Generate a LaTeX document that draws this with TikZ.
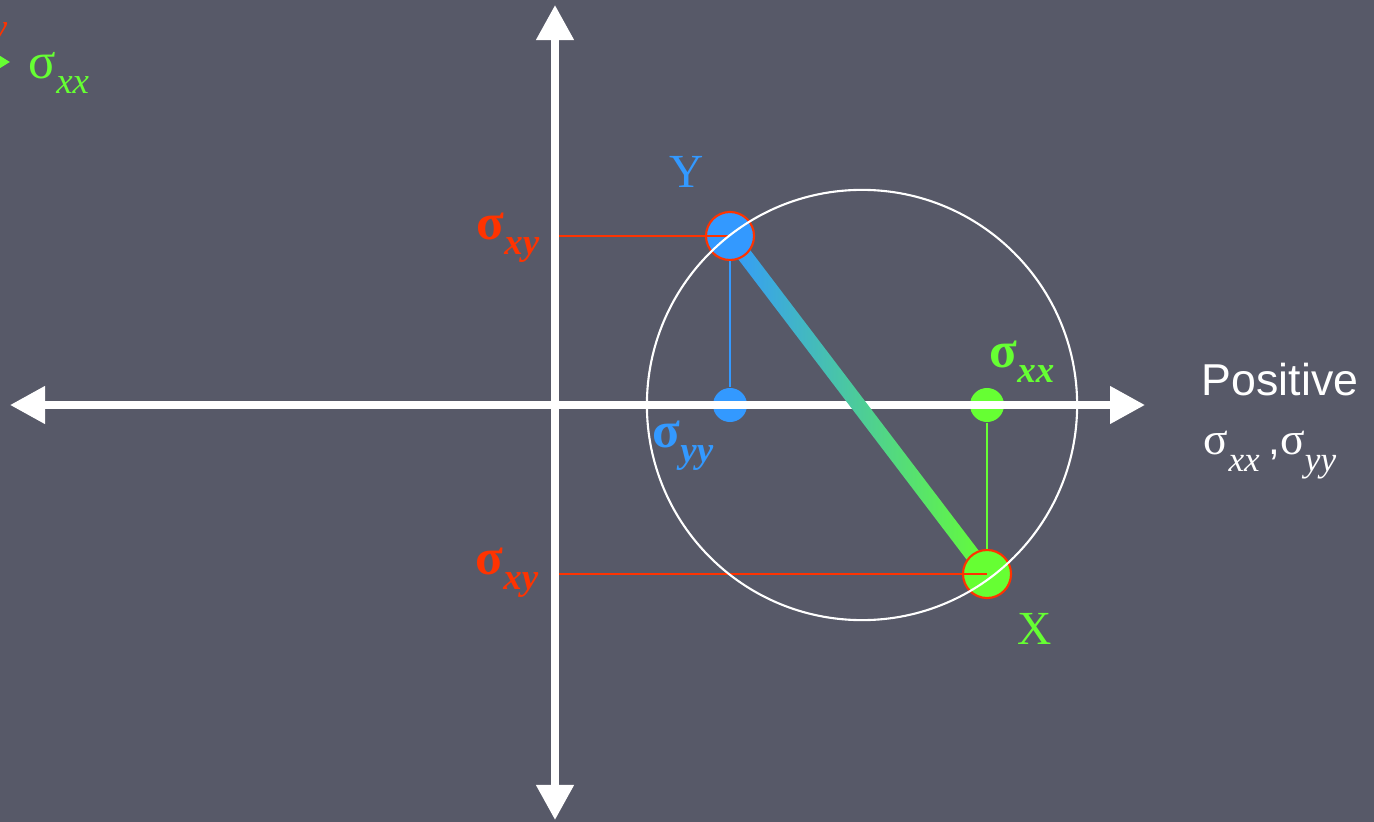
\documentclass[tikz,border=0pt]{standalone}
\usepackage{fontspec}
\setmainfont{Liberation Serif}
\setsansfont{Liberation Sans}
\usetikzlibrary{arrows.meta,calc}
\definecolor{bgcol}{RGB}{87,89,104}
\definecolor{redcol}{HTML}{FF3300}
\definecolor{bluecol}{HTML}{3399FF}
\definecolor{greencol}{HTML}{66FF33}
\newcommand{\sgb}[1]{{\fontsize{14.5}{14.5}\selectfont σ}\raisebox{-4.3pt}{\fontsize{10.5}{10.5}\selectfont\itshape #1}}
\newcommand{\sgs}[1]{{\fontsize{13}{13}\selectfont σ}\raisebox{-4.8pt}{\fontsize{10}{10}\selectfont\itshape #1}}
\tikzset{
  axisarr/.style={white, line width=0.075cm, {Triangle[width=0.36cm,length=0.35cm]}-{Triangle[width=0.36cm,length=0.35cm]}},
  spt/.style={circle, draw=redcol, line width=0.6pt, inner sep=0pt, minimum size=0.48cm},
  sdot/.style={circle, inner sep=0pt, minimum size=0.34cm},
  guide/.style={line width=0.6pt},
  slbl/.style={inner sep=0pt, font=\bfseries},
  plbl/.style={inner sep=0pt}
}
\begin{document}
\begin{tikzpicture}[x=0.01cm, y=-0.01cm]
\fill[bgcol] (0,0) rectangle (1374,822);
\useasboundingbox (0,0) rectangle (1374,822);
% normal stress dots
\node[sdot, fill=bluecol] (syy) at (730,405) {};
\node[sdot, fill=greencol] (sxx) at (987,405) {};
% axes
\coordinate (tp) at (555,5); \coordinate (bt) at (555,820);
\coordinate (lf) at (10,405); \coordinate (rt) at (1145,405);
\draw[axisarr] (lf)--(rt); \draw[axisarr] (bt)--(tp);
% diameter Y--X
\coordinate (pY) at (730,236); \coordinate (pX) at (987,574);
\shade[left color=bluecol, right color=greencol]
  ($(pY)!0.075cm!90:(pX)$) -- ($(pX)!0.075cm!-90:(pY)$) -- ($(pX)!0.075cm!90:(pY)$) -- ($(pY)!0.075cm!-90:(pX)$) -- cycle;
\node[spt, fill=bluecol] (Y) at (pY) {};
\node[spt, fill=greencol] (X) at (pX) {};
\coordinate (ay) at (559,236); \coordinate (ax) at (559,574);
\draw[guide, redcol] (ay)--(Y.center); \draw[guide, redcol] (ax)--(X.center);
\draw[guide, bluecol] (Y)--(syy); \draw[guide, greencol] (sxx)--(X);
\coordinate (C) at (862,405);
\draw[guide, white] (C) circle[radius=2.15cm];
% labels
\node[slbl, redcol] (lxy1) at (508,238) {\sgb{xy}};
\node[slbl, redcol] (lxy2) at (507,573) {\sgb{xy}};
\node[slbl, bluecol] (lyy) at (683,446) {\sgb{yy}};
\node[slbl, greencol] (lxx) at (1022,362) {\sgb{xx}};
\node[plbl, bluecol, font=\fontsize{13.5}{13.5}\selectfont] (lY) at (687,172) {Y};
\node[plbl, greencol, font=\fontsize{13.5}{13.5}\selectfont] (lX) at (1035,629) {X};
\node[plbl, white, font=\sffamily\fontsize{12.7}{12.7}\selectfont] (pos) at (1280,380) {Positive};
\node[plbl, white] (pos2) at (1270,455) {\sgs{xx} {\sffamily\fontsize{12}{12}\selectfont,}\sgs{yy}};
% cut off at the left edge
\node[plbl, redcol, anchor=north east] (lxy0) at (8,-2) {\sgb{xy}};
\node[plbl, greencol] (lxx0) at (59,73) {\sgb{xx}};
\coordinate (fa) at (-40,62); \coordinate (fb) at (10,62);
\draw[greencol, line width=2pt, -{Triangle[width=0.15cm,length=0.13cm]}] (fa)--(fb);
\end{tikzpicture}
\end{document}
